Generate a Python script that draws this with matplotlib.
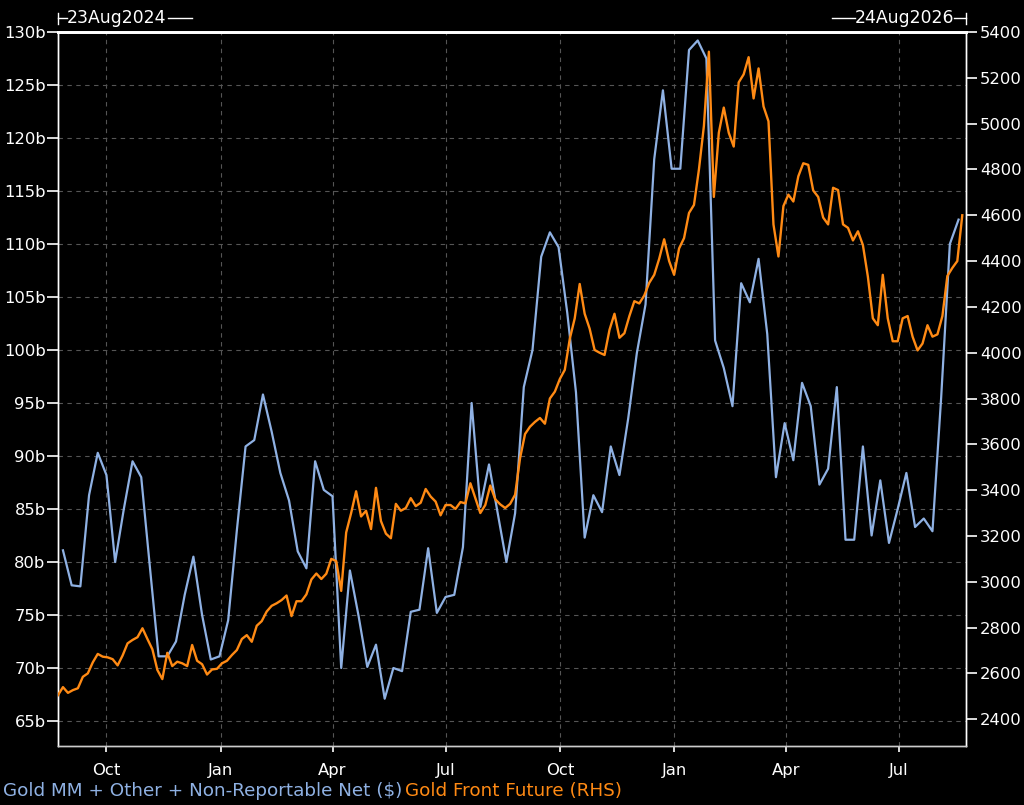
import matplotlib
matplotlib.use('Agg')
import matplotlib.pyplot as plt
import matplotlib.dates as mdates
import pandas as pd
from matplotlib.lines import Line2D

plt.rcParams['font.family'] = ['DejaVu Sans']

# Weekly positioning, billions of $ (Tuesdays)
cot_start = '2024-08-27'
cot_values = [
    81.1, 77.8, 77.7, 86.3, 90.3, 88.2, 80.0, 85.0, 89.5, 88.0,
    79.5, 71.1, 71.1, 72.5, 76.9, 80.5, 75.0, 70.8, 71.1, 74.5,
    83.0, 90.9, 91.5, 95.8, 92.3, 88.4, 85.8, 81.0, 79.4, 89.5,
    86.8, 86.2, 70.0, 79.2, 74.9, 70.1, 72.2, 67.1, 70.0, 69.7,
    75.3, 75.5, 81.3, 75.2, 76.7, 76.9, 81.4, 95.0, 85.2, 89.2,
    84.6, 80.0, 84.6, 96.5, 100.0, 108.8, 111.1, 109.7, 103.5, 96.0,
    82.3, 86.3, 84.7, 90.9, 88.2, 93.5, 99.7, 104.3, 118.0, 124.5,
    117.1, 117.1, 128.3, 129.2, 127.5, 100.9, 98.3, 94.7, 106.3, 104.5,
    108.6, 101.5, 88.0, 93.1, 89.6, 96.9, 94.7, 87.3, 88.8, 96.5,
    82.1, 82.1, 90.9, 82.5, 87.7, 81.8, 85.0, 88.4, 83.3, 84.1,
    82.9, 95.5, 110.0, 112.3,
]

# Gold front future, read every 4 calendar days
gold_start = '2024-08-23'
gold_values = [
    2505, 2540, 2515, 2527, 2535, 2585, 2600, 2648, 2685, 2673,
    2670, 2662, 2635, 2678, 2731, 2746, 2758, 2797, 2750, 2705,
    2615, 2575, 2690, 2632, 2651, 2644, 2632, 2724, 2655, 2640,
    2595, 2617, 2620, 2644, 2655, 2680, 2702, 2750, 2767, 2738,
    2808, 2828, 2870, 2895, 2906, 2920, 2940, 2850, 2915, 2915,
    2945, 3010, 3036, 3012, 3035, 3100, 3090, 2960, 3215, 3300,
    3395, 3285, 3310, 3230, 3410, 3265, 3210, 3190, 3340, 3310,
    3322, 3365, 3330, 3345, 3405, 3372, 3350, 3290, 3335, 3335,
    3318, 3348, 3342, 3430, 3365, 3300, 3335, 3420, 3360, 3338,
    3322, 3340, 3380, 3540, 3645, 3677, 3698, 3715, 3690, 3800,
    3830, 3885, 3925, 4060, 4150, 4300, 4170, 4105, 4012, 4000,
    3990, 4100, 4170, 4065, 4085, 4160, 4225, 4215, 4250, 4305,
    4340, 4410, 4495, 4400, 4340, 4455, 4500, 4610, 4645, 4800,
    4990, 5314, 4680, 4960, 5070, 4960, 4900, 5180, 5215, 5290,
    5110, 5241, 5075, 5010, 4560, 4420, 4640, 4690, 4660, 4770,
    4827, 4820, 4708, 4680, 4590, 4560, 4720, 4710, 4560, 4545,
    4490, 4530, 4470, 4332, 4150, 4120, 4340, 4150, 4050, 4050,
    4150, 4160, 4070, 4010, 4040, 4120, 4070, 4080, 4160, 4335,
    4370, 4400, 4600,
]

left_ticks = list(range(65, 131, 5))
right_ticks = list(range(2400, 5401, 200))
x_start, x_end = '2024-08-23', '2026-08-24'
series_names = ['Gold MM + Other + Non-Reportable Net ($)', 'Gold Front Future (RHS)']

cot_dates = pd.date_range(cot_start, periods=len(cot_values), freq='7D')
gold_dates = pd.date_range(gold_start, periods=len(gold_values), freq='4D')

BLUE = '#8fb1e3'
ORANGE = '#ff8a14'
W, H = 1024, 805

fig = plt.figure(figsize=(W / 100, H / 100), dpi=100, facecolor='black')
ax = fig.add_axes([58 / W, 1 - 746 / H, (966 - 58) / W, (746 - 32) / H])
ax.set_facecolor('black')
ax.plot(cot_dates, cot_values, color=BLUE, lw=1.6, zorder=3)

ax2 = ax.twinx()
ax2.plot(gold_dates, gold_values, color=ORANGE, lw=1.7, zorder=3)

ax.set_xlim(pd.Timestamp(x_start), pd.Timestamp(x_end))
ax.set_ylim(62.64, 130)
ax2.set_ylim(2283, 5400)

ax.set_yticks(left_ticks)
ax.set_yticklabels([f'{v}b' for v in left_ticks])
ax2.set_yticks(right_ticks)
ax2.set_yticklabels([str(v) for v in right_ticks])

ax.xaxis.set_major_locator(mdates.MonthLocator(bymonth=[1, 4, 7, 10]))
ax.xaxis.set_major_formatter(mdates.DateFormatter('%b'))

ax.grid(True, color='#555555', ls=(0, (4, 4)), lw=0.8)
ax.set_axisbelow(True)

for a in (ax, ax2):
    for s in a.spines.values():
        s.set_color('white')
        s.set_linewidth(1.0)
    a.spines['top'].set_linewidth(2.0)
    a.spines['bottom'].set_color('#cccccc')

ax.tick_params(axis='y', colors='white', length=8, width=1.2, labelsize=11.8, pad=1)
ax2.tick_params(axis='y', colors='white', length=8, width=1.2, labelsize=11.8, pad=2)
ax.tick_params(axis='x', colors='white', length=4, width=1.2, labelsize=11.8, pad=8)

# header range markers
y_h = 1 - 18 / H
fig.add_artist(Line2D([58 / W, 58 / W], [1 - 13 / H, 1 - 24 / H], color='white', lw=1))
fig.add_artist(Line2D([58 / W, 67 / W], [y_h, y_h], color='white', lw=1))
fig.text(67 / W, y_h, '23Aug2024', color='white', fontsize=12.4, va='center', ha='left')
fig.add_artist(Line2D([168 / W, 192 / W], [y_h, y_h], color='white', lw=1))

fig.add_artist(Line2D([966 / W, 966 / W], [1 - 13 / H, 1 - 24 / H], color='white', lw=1))
fig.add_artist(Line2D([954 / W, 966 / W], [y_h, y_h], color='white', lw=1))
fig.text(954 / W, y_h, '24Aug2026', color='white', fontsize=12.4, va='center', ha='right')
fig.add_artist(Line2D([832 / W, 855 / W], [y_h, y_h], color='white', lw=1))

# legend text
fig.text(3 / W, 1 - 791 / H, series_names[0], color=BLUE, fontsize=13.2, va='center', ha='left')
fig.text(405 / W, 1 - 791 / H, series_names[1], color=ORANGE, fontsize=13.2, va='center', ha='left')

fig.savefig('out.png', dpi=100, facecolor='black')
